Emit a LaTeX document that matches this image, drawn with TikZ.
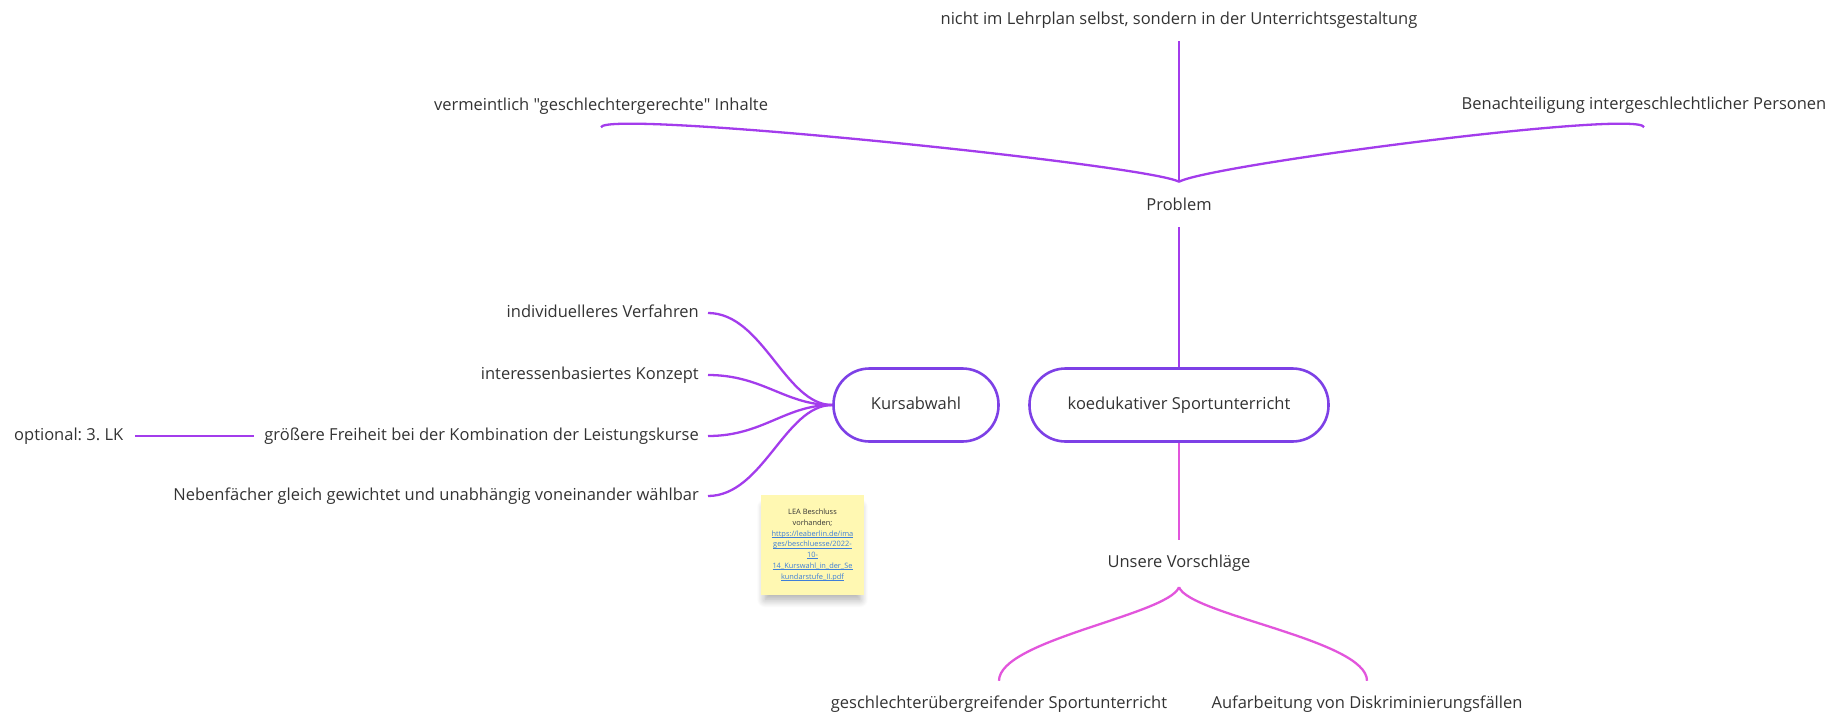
\documentclass[tikz,border=0pt]{standalone}
\usepackage{fontspec}
\setmainfont{Open Sans}[Ligatures=TeXOff]
\usetikzlibrary{shadows.blur}
\definecolor{ink}{HTML}{333333}
\definecolor{violetline}{HTML}{A33CEC}
\definecolor{pinkline}{HTML}{E255DC}
\definecolor{pillline}{HTML}{7D40E6}
\definecolor{notebg}{HTML}{FFF8B2}
\definecolor{linkblue}{HTML}{3F7FD8}
\newsavebox\linkbox
\newcommand{\notelink}[1]{\textcolor{linkblue}{\sbox\linkbox{#1}%
  \rlap{\rule[-1.2pt]{\wd\linkbox}{0.4pt}}\usebox\linkbox}}
\begin{document}
\frenchspacing
\begin{tikzpicture}[x=1pt,y=-1pt,
  lbl/.style={font=\fontsize{16.5}{20}\selectfont, text=ink, inner sep=0pt,
              text height=12pt, text depth=4pt},
  pill/.style={lbl, draw=pillline, line width=2.6pt, rounded corners=36pt,
               minimum height=73pt},
  branch/.style={violetline, line width=2.3pt},
  lower/.style={pinkline, line width=2.3pt},
]
\useasboundingbox (0,0) rectangle (1848,718);

% upper part: the problem and its three causes
\node[lbl] (lehrplan) at (1179,20) {nicht im Lehrplan selbst, sondern in der Unterrichtsgestaltung};
\node[lbl] (inhalte) at (601,106) {vermeintlich "geschlechtergerechte" Inhalte};
\node[lbl] (benach) at (1644,105) {Benachteiligung intergeschlechtlicher Personen};
\node[lbl] (problem) at (1179,206) {Problem};

% central topic and the course choice topic
\node[pill, minimum width=299pt] (koedu) at (1179,405) {koedukativer Sportunterricht};
\node[pill, minimum width=165pt] (kurs) at (916,405) {Kursabwahl};

% proposals
\node[lbl] (vorschlaege) at (1179,563) {Unsere Vorschläge};
\node[lbl] (uebergreif) at (999,704) {geschlechterübergreifender Sportunterricht};
\node[lbl] (aufarb) at (1367,704) {Aufarbeitung von Diskriminierungsfällen};

% details of the course choice
\node[lbl, anchor=east] (indiv) at (699,313) {individuelleres Verfahren};
\node[lbl, anchor=east] (interesse) at (699,375) {interessenbasiertes Konzept};
\node[lbl, anchor=east] (freiheit) at (699,436) {größere Freiheit bei der Kombination der Leistungskurse};
\node[lbl, anchor=east] (neben) at (699,496) {Nebenfächer gleich gewichtet und unabhängig voneinander wählbar};
\node[lbl, anchor=west] (optional) at (14,436) {optional: 3. LK};

% sticky note
\node[fill=notebg, minimum width=103pt, minimum height=100pt, inner sep=0pt,
      blur shadow={shadow xshift=0pt, shadow yshift=-9pt, shadow opacity=35,
                   shadow blur radius=9pt, shadow blur steps=12, shadow scale=0.92},
      font=\fontsize{7.4}{10.7}\selectfont, text=ink, align=center]
  (note) at (812.5,545)
  {LEA Beschluss\\ vorhanden;\\
   \notelink{https://leaberlin.de/ima}\\
   \notelink{ges/beschluesse/2022-}\\
   \notelink{10-}\\
   \notelink{14\_Kurswahl\_in\_der\_Se}\\
   \notelink{kundarstufe\_II.pdf}};

% junction points of the branches
\coordinate (pj) at ([yshift=16pt]problem.north);
\coordinate (vj) at ([yshift=-16pt]vorschlaege.south);

% connectors of the problem
\draw[branch] ([yshift=-13pt]lehrplan.south) -- (pj);
\draw[branch] ([yshift=-13pt]inhalte.south) .. controls +(5,-18) and (1150,165) .. (pj);
\draw[branch] ([yshift=-14pt]benach.south) .. controls +(-5,-18) and (1208,165) .. (pj);
\draw[branch] ([yshift=-13pt]problem.south) -- (koedu.north);

% connectors of the proposals
\draw[lower] (koedu.south) -- ([yshift=15pt]vorschlaege.north);
\draw[lower] (vj) .. controls (1168,615) and (999,640) .. ([yshift=15pt]uebergreif.north);
\draw[lower] (vj) .. controls (1190,615) and (1367,640) .. ([yshift=15pt]aufarb.north);

% connectors of the course choice
\foreach \n in {indiv,interesse,freiheit,neben}
  \draw[branch] ([xshift=9pt]\n.east) .. controls +(55,0) and (785,405) .. (kurs.west);
\draw[branch] ([xshift=12pt]optional.east) -- ([xshift=-10pt]freiheit.west);
\end{tikzpicture}
\end{document}
